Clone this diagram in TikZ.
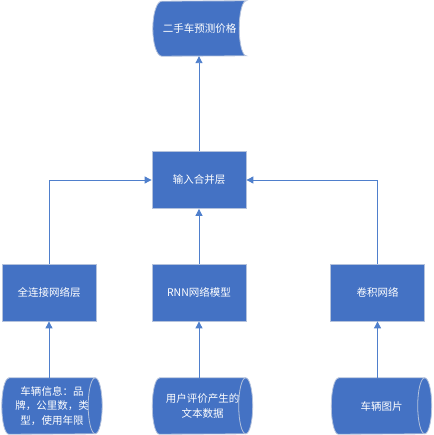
\documentclass[tikz,border=0pt]{standalone}
\usepackage{fontspec}
\newfontfamily\cjk{Noto Sans CJK SC}
\usepackage{xcolor}
\usepackage{tikz}
\usetikzlibrary{arrows.meta,positioning,calc,backgrounds}

\definecolor{boxblue}{HTML}{4472C4}
\definecolor{boxedge}{HTML}{B4C2DC}
\definecolor{lineblue}{HTML}{4F7FCC}

\begin{document}
\begin{tikzpicture}[
    x=1pt, y=-1pt,
    txt/.style={text=white, font=\cjk\fontsize{10.5}{14.5}\selectfont, align=center},
    proc/.style={txt, draw=boxedge, fill=boxblue, line width=0.8pt, minimum width=94pt, minimum height=57pt, inner sep=0pt},
    data/.style={txt, minimum width=100pt, minimum height=56pt, inner sep=0pt},
    stored/.style={txt, minimum width=93pt, minimum height=55pt, inner sep=0pt},
    outline/.style={draw=boxedge, fill=boxblue, line width=0.8pt},
    arrow/.style={-{Triangle[width=7pt,length=7pt]}, draw=lineblue, line width=0.9pt}
]
\useasboundingbox (0,0) rectangle (433,435);

% Output
\node[stored] (price) at (199.5,28.5) {二手车预测价格};

% Merge layer
\node[proc] (merge) at (199,180) {输入合并层};

% Networks
\node[proc] (fc) at (49,292.5) {全连接网络层};
\node[proc] (rnn) at (199,292.5) {RNN网络模型};
\node[proc] (cnn) at (377.5,292.5) {卷积网络};

% Inputs
\node[data] (info) at (52,406) {车辆信息：品\\牌，公里数，类\\型，使用年限};
\node[data] (review) at (202.5,406) {用户评价产生的\\文本数据};
\node[data] (photo) at (381.5,406) {车辆图片};

% Shape outlines
\begin{scope}[on background layer]
\draw[outline]
    (price.north east) arc[start angle=90, end angle=270, x radius=7pt, y radius=27.5pt]
    -- ([xshift=9pt]price.south west) arc[start angle=270, end angle=90, x radius=9pt, y radius=27.5pt]
    -- cycle;
\foreach \n in {info,review,photo} {
  \draw[outline]
      ([xshift=7pt]\n.north west) -- ([xshift=-7pt]\n.north east)
      arc[start angle=90, end angle=-90, x radius=7pt, y radius=28pt]
      -- ([xshift=7pt]\n.south west)
      arc[start angle=270, end angle=90, x radius=7pt, y radius=28pt] -- cycle;
  \draw[outline, fill=none]
      ([xshift=-7pt]\n.north east) arc[start angle=90, end angle=270, x radius=7pt, y radius=28pt];
}
\end{scope}

% Arrows
\draw[arrow] (fc |- info.north) -- (fc.south);
\draw[arrow] (rnn |- review.north) -- (rnn.south);
\draw[arrow] (cnn |- photo.north) -- (cnn.south);
\draw[arrow] (fc.north) |- (merge.west);
\draw[arrow] (rnn.north) -- (merge.south);
\draw[arrow] (cnn.north) |- (merge.east);
\draw[arrow] (merge.north) -- (price.south -| merge);

\end{tikzpicture}
\end{document}
